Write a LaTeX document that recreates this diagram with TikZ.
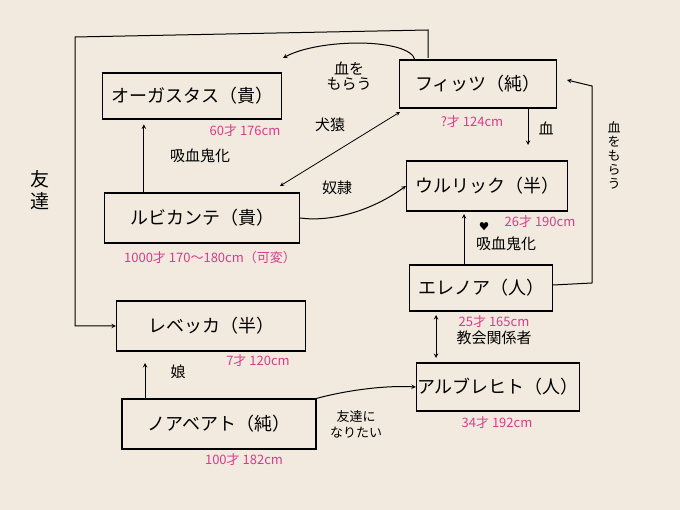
\documentclass[tikz,border=0pt]{standalone}
\usepackage{fontspec}
\setmainfont{Noto Sans CJK JP}
\definecolor{paper}{RGB}{242,234,222}
\definecolor{pinkc}{RGB}{215,60,140}
\begin{document}
\begin{tikzpicture}[x=1pt,y=-1pt,
  box/.style={draw,line width=1.2pt,minimum height=46pt,font=\fontsize{18}{18}\selectfont,inner sep=0pt},
  info/.style={text=pinkc,font=\fontsize{13}{13}\selectfont},
  lab/.style={font=\fontsize{15}{15}\selectfont},
  arr/.style={->,line width=1pt,>=stealth}]
\fill[paper] (0,0) rectangle (680,510);
\useasboundingbox (0,0) rectangle (680,510);
\node[box,minimum width=179pt] (aug) at (192,96) {オーガスタス（貴）};
\node[box,minimum width=157pt,minimum height=48pt] (fit) at (478,84) {フィッツ（純）};
\node[box,minimum width=195pt,minimum height=50pt] (rub) at (202,218) {ルビカンテ（貴）};
\node[box,minimum width=161pt,minimum height=50pt] (ulr) at (487,186) {ウルリック（半）};
\node[box,minimum width=143pt,minimum height=46pt] (ele) at (481,288) {エレノア（人）};
\node[box,minimum width=189pt,minimum height=50pt] (reb) at (211,326) {レベッカ（半）};
\node[box,minimum width=194pt,minimum height=50pt] (noa) at (219,424) {ノアベアト（純）};
\node[box,minimum width=163pt,minimum height=48pt] (alb) at (498,387) {アルブレヒト（人）};
\node[info] (i1) at (245,131) {60才 176cm};
\node[info] (i2) at (472,122) {?才 124cm};
\node[info] (i3) at (210,258) {1000才 170〜180cm（可変）};
\node[info] (i4) at (540,222) {26才 190cm};
\node[info] (i5) at (494,322) {25才 165cm};
\node[info] (i6) at (258,361) {7才 120cm};
\node[info] (i7) at (244,460) {100才 182cm};
\node[info] (i8) at (497,423) {34才 192cm};
% arrows
\draw[arr] (rub.north west)+(40,0) coordinate (r1) -- ++(40,-68);
\node[lab] (l1) at (200,156) {吸血鬼化};
\coordinate (f1) at (415,60);
\coordinate (a1) at (283,58);
\draw[arr] (f1) .. controls (410,38) and (320,38) .. (a1);
\node[lab,align=center] (l2) at (349,76) {血を\\もらう};
\coordinate (c1) at (280,186);
\coordinate (c2) at (400,112);
\draw[<->,line width=0.8pt,>=stealth] (c1) -- (c2);
\node[lab] (l3) at (330,125) {犬猿};
\draw[arr] (rub.east) .. controls (330,222) and (370,212) .. (ulr.west);
\node[lab] (l4) at (337,188) {奴隷};
\coordinate (f2) at (528,108);
\draw[arr] (f2) -- (528,145);
\node[lab] (l5) at (546,128) {血};
\coordinate (e1) at (553,285);
\draw[arr] (e1) -- (592,283) -- (592,86) -- (567,80);
\node[lab,align=center,font=\fontsize{13}{14}\selectfont] (l6) at (614,155) {血\\を\\も\\ら\\う};
\coordinate (e2) at (464,264);
\draw[arr] (e2) -- (464,214);
\node[lab] (l7) at (506,244) {吸血鬼化};
\node[font=\fontsize{10}{10}\selectfont] (h) at (484,227) {♥};
\draw[<->,line width=1pt,>=stealth] (436,315) -- (436,358);
\node[lab] (l8) at (494,338) {教会関係者};
\draw[arr] (145,398) -- (145,363);
\node[lab] (l9) at (178,372) {娘};
\draw[arr] (noa.north east) .. controls (340,392) and (380,385) .. (alb.west);
\node[lab,align=center,font=\fontsize{13}{16}\selectfont] (l10) at (356,424) {友達に\\なりたい};
\coordinate (f3) at (428,58);
\draw[arr] (f3) -- (428,30) -- (75,37) -- (75,326) -- (reb.west);
\node[lab,align=center,font=\fontsize{19}{22}\selectfont] (l11) at (40,190) {友\\達};
\end{tikzpicture}
\end{document}
